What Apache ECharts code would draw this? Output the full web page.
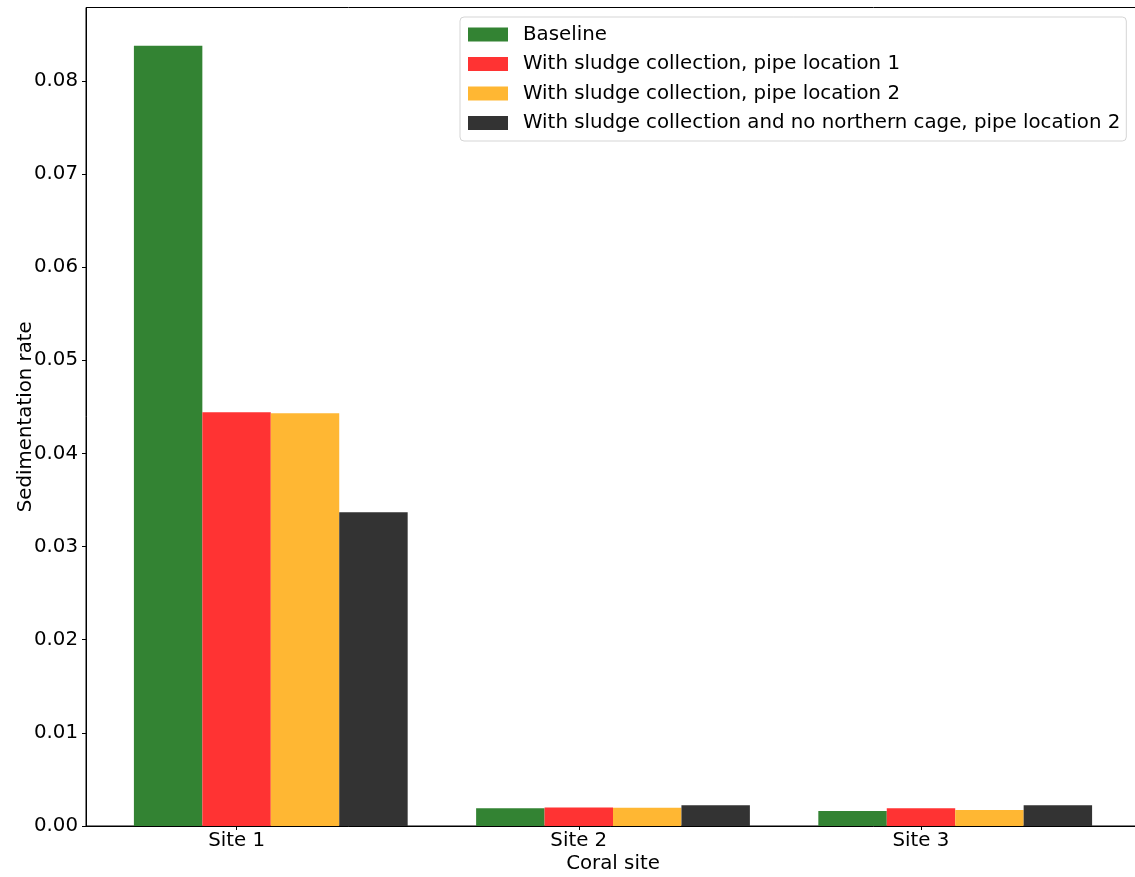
<!DOCTYPE html>
<html><head><meta charset="utf-8">
<script src="https://cdn.jsdelivr.net/npm/echarts@6/dist/echarts.min.js"></script>
<style>html,body{margin:0;padding:0;background:#fff}#c{width:1135px;height:877px}</style>
</head><body><div id="c"></div><script>
const categories = ['Site 1', 'Site 2', 'Site 3'];
const seriesNames = [
  'Baseline',
  'With sludge collection, pipe location 1',
  'With sludge collection, pipe location 2',
  'With sludge collection and no northern cage, pipe location 2'
];
const baseline = [0.08376, 0.00190, 0.00161];
const pipeLocation1 = [0.04442, 0.00199, 0.00190];
const pipeLocation2 = [0.04432, 0.00197, 0.00172];
const noNorthernCage = [0.03369, 0.00222, 0.00222];
const yTicks = [0, 0.01, 0.02, 0.03, 0.04, 0.05, 0.06, 0.07, 0.08];
const xTicks = [0, 1, 2];

const values = [baseline, pipeLocation1, pipeLocation2, noNorthernCage];
const colors = ['#338333', '#ff3333', '#ffb733', '#333333'];
const FONT = 'DejaVu Sans';
const FS = 19.8;

const xAxes = values.map((v, i) => {
  const ax = {
    type: 'value', min: -0.44, max: 2.64, show: i === 0,
    splitLine: { show: false }
  };
  if (i === 0) {
    Object.assign(ax, {
      axisLine: { show: true, onZero: false, lineStyle: { color: '#000', width: 1 } },
      axisTick: { show: true, length: 4, customValues: xTicks, lineStyle: { color: '#000' } },
      axisLabel: { customValues: xTicks, formatter: v => categories[Math.round(v)], margin: 5,
        fontSize: FS, fontFamily: FONT, color: '#000' },
      name: 'Coral site', nameLocation: 'middle', nameGap: 28, nameMoveOverlap: false,
      nameTextStyle: { fontSize: FS, fontFamily: FONT, color: '#000' }
    });
  }
  return ax;
});

const series = values.map((vals, i) => ({
  type: 'bar',
  name: seriesNames[i],
  xAxisIndex: i,
  barWidth: '20%',
  itemStyle: { color: colors[i] },
  data: categories.map((c, j) => [j + (i - 1) * 0.2, vals[j]])
}));

const chart = echarts.init(document.getElementById('c'), null, { renderer: 'canvas' });
chart.setOption({
  animation: false,
  backgroundColor: '#fff',
  grid: { left: 86, top: 7.5, width: 1054, bottom: 51, show: true, borderColor: '#000', borderWidth: 1,
    backgroundColor: 'transparent', containLabel: false, outerBoundsMode: 'none' },
  legend: {
    orient: 'vertical', left: 460, top: 17,
    icon: 'rect', itemWidth: 40, itemHeight: 14, itemGap: 9.5,
    padding: [7.5, 6, 8, 8],
    backgroundColor: '#fff', borderColor: '#d5d5d5', borderWidth: 1, borderRadius: 4,
    textStyle: { fontSize: FS, fontFamily: FONT, color: '#000', lineHeight: 20, padding: [0, 0, 0, 10] },
    data: seriesNames
  },
  xAxis: xAxes,
  yAxis: {
    type: 'value', min: 0, max: 0.08787, interval: 0.01,
    axisLine: { show: true, onZero: false, lineStyle: { color: '#000', width: 1 } },
    axisTick: { show: true, length: 4, customValues: yTicks, lineStyle: { color: '#000' } },
    axisLabel: { customValues: yTicks, formatter: v => v.toFixed(2), margin: 8,
      fontSize: FS, fontFamily: FONT, color: '#000' },
    splitLine: { show: false },
    name: 'Sedimentation rate', nameLocation: 'middle', nameGap: 50, nameMoveOverlap: false,
    nameTextStyle: { fontSize: FS, fontFamily: FONT, color: '#000' }
  },
  series: series
});
</script></body></html>
